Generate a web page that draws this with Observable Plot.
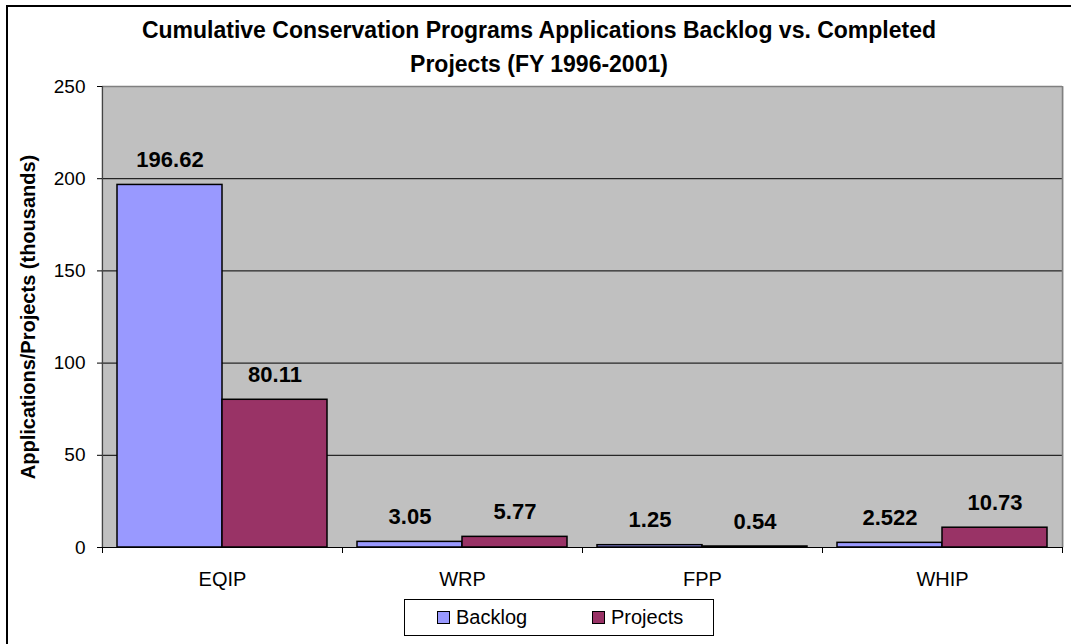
<!DOCTYPE html>
<html>
<head>
<meta charset="utf-8">
<script src="https://cdn.jsdelivr.net/npm/d3@7"></script>
<script src="https://cdn.jsdelivr.net/npm/@observablehq/plot@0.6"></script>
<style>
  html, body { margin: 0; padding: 0; background: #fff; }
  body { width: 1071px; height: 644px; overflow: hidden; font-family: "Liberation Sans", Arial, sans-serif; }
  #wrap { position: relative; width: 1071px; height: 644px; }
  #border { position: absolute; left: 6px; top: 5px; width: 1100px; height: 700px; border-left: 2px solid #000; border-top: 2px solid #000; box-sizing: border-box; }
  #title { position: relative; height: 70px; box-sizing: border-box; padding-top: 13px; padding-left: 7px; text-align: center; font-weight: bold; font-size: 23px; line-height: 34px; color: #000; }
  #chart svg { display: block; overflow: visible; }
  #legend { position: absolute; left: 404px; top: 599px; width: 310px; height: 37px; box-sizing: border-box; border: 1px solid #000; display: flex; align-items: center; padding-left: 32px; font-size: 20px; background: #fff; }
  .item { display: flex; align-items: center; }
  .item:first-child { width: 155px; }
  .sw { width: 13px; height: 13px; box-sizing: border-box; border: 1px solid #000; margin-right: 6px; }
</style>
</head>
<body>
<div id="wrap">
  <div id="border"></div>
  <div id="title"></div>
  <div id="chart"></div>
  <div id="legend"></div>
</div>
<script>
const titleLines = ["Cumulative Conservation Programs Applications Backlog vs. Completed", "Projects (FY 1996-2001)"];
const programs = ["EQIP", "WRP", "FPP", "WHIP"];
const backlog = [196.62, 3.05, 1.25, 2.522];
const projects = [80.11, 5.77, 0.54, 10.73];
const seriesNames = ["Backlog", "Projects"];
const seriesColors = ["#9999FF", "#993366"];
const yTicks = [0, 50, 100, 150, 200, 250];
const gridValues = [50, 100, 150, 200];
const yLabel = "Applications/Projects (thousands)";

const rows = [];
programs.forEach((p, i) => {
  rows.push({program: p, series: seriesNames[0], value: backlog[i]});
  rows.push({program: p, series: seriesNames[1], value: projects[i]});
});

document.getElementById("title").innerHTML = titleLines.map(t => `<div>${t}</div>`).join("");

const W = 1071, H = 523, mL = 102, mR = 9, mT = 16, mB = 46;
const band = (W - mL - mR) / programs.length;

const chart = Plot.plot({
  width: W,
  height: H,
  marginLeft: mL,
  marginRight: mR,
  marginTop: mT,
  marginBottom: mB,
  style: {fontFamily: "'Liberation Sans', Arial, sans-serif", fontSize: "20px", background: "transparent", color: "#000", overflow: "visible"},
  fx: {domain: programs, padding: 0},
  x: {domain: seriesNames, paddingInner: 0, paddingOuter: 1 / 7, axis: null},
  y: {domain: [0, 250]},
  color: {domain: seriesNames, range: seriesColors},
  marks: [
    Plot.frame({fill: "#C0C0C0", insetLeft: -1, insetRight: -1}),
    Plot.ruleY(gridValues, {stroke: "#000", strokeWidth: 1}),
    Plot.ruleY([250], {stroke: "#808080", strokeWidth: 1.5}),
    Plot.gridFx({ticks: [programs[programs.length - 1]], dx: band / 2, stroke: "#808080", strokeOpacity: 1, strokeWidth: 1.5}),
    Plot.gridFx({ticks: [programs[0]], dx: -band / 2, stroke: "#444", strokeOpacity: 1, strokeWidth: 1.2}),
    Plot.barY(rows, {fx: "program", x: "series", y: "value", fill: "series", stroke: "#000", strokeWidth: 1.5}),
    Plot.ruleY([0], {stroke: "#000", strokeWidth: 1.2}),
    Plot.text(rows, {fx: "program", x: "series", y: "value", text: d => String(d.value), lineAnchor: "bottom", dy: -18, fontWeight: "bold", fontSize: 22, fill: "#000"}),
    Plot.axisY({ticks: yTicks, tickSize: 5, tickPadding: 12, label: null, fontSize: 19}),
    Plot.text([{program: programs[0]}], {fx: "program", frameAnchor: "left", textAnchor: "middle", text: () => yLabel, rotate: -90, dx: -74, fontWeight: "bold", fontSize: 20, fill: "#000"}),
    Plot.axisFx({anchor: "bottom", tickSize: 0, tickPadding: 24, fontSize: 20, label: null}),
    Plot.axisFx({anchor: "bottom", tickSize: 6, tickFormat: () => "", label: null, dx: -band / 2}),
    Plot.axisFx({anchor: "bottom", tickSize: 6, tickFormat: () => "", label: null, dx: band / 2})
  ]
});
document.getElementById("chart").appendChild(chart);

const legend = document.getElementById("legend");
seriesNames.forEach((s, i) => {
  const item = document.createElement("div");
  item.className = "item";
  item.innerHTML = `<span class="sw" style="background:${seriesColors[i]}"></span><span>${s}</span>`;
  legend.appendChild(item);
});
</script>
</body>
</html>
